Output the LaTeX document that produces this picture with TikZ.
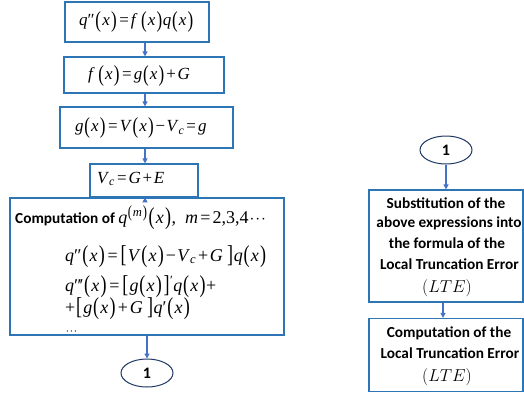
\documentclass[tikz,border=0pt]{standalone}
\usepackage{fontspec}
\usepackage{graphicx}
\setmainfont{Liberation Serif}
\newfontfamily\carl{Carlito}
\usetikzlibrary{arrows.meta,shapes.geometric,calc}
\definecolor{boxblue}{RGB}{46,117,182}
\definecolor{arrblue}{RGB}{68,114,196}
\definecolor{navy}{RGB}{31,56,100}
\newcommand\I[1]{\textit{#1}}
\newcommand\LP{\kern0.04em\raisebox{-0.09em}{\scalebox{1}[1.35]{(}}\kern0.07em}
\newcommand\RP{\kern0.07em\raisebox{-0.09em}{\scalebox{1}[1.35]{)}}\kern0.03em}
\newcommand\LB{\kern0.04em\raisebox{-0.09em}{\scalebox{1}[1.35]{[}}\kern0.07em}
\newcommand\RB{\kern0.07em\raisebox{-0.09em}{\scalebox{1}[1.35]{]}}\kern0.03em}
\newcommand\EQ{\kern0.12em=\kern0.12em}
\newcommand\PL{\kern0.1em+\kern0.1em}
\newcommand\MI{\kern0.08em−\kern0.08em}
\newcommand\tdots{$\mkern1mu\cdot\mkern-3mu\cdot\mkern-3mu\cdot$}
\begin{document}
\begin{tikzpicture}[x=1pt,y=-1pt,
  box/.style={draw=boxblue,line width=1.2pt,fill=white},
  arr/.style={draw=arrblue,line width=1.2pt,-{Triangle[length=5pt,width=5pt]}},
  conn/.style={ellipse,draw=navy,line width=1pt,fill=white,minimum width=52pt,minimum height=28pt,inner sep=0pt,font=\carl\bfseries\fontsize{16}{18}\selectfont},
  eq/.style={anchor=west,inner sep=0pt,font=\fontsize{17}{19}\selectfont},
  eqb/.style={anchor=west,inner sep=0pt,font=\fontsize{18}{20}\selectfont},
  lab/.style={inner sep=0pt,font=\carl\bfseries\fontsize{15.3}{18}\selectfont},
  lte/.style={inner sep=0pt,font=\fontsize{16}{18}\selectfont}]
\useasboundingbox (0,0) rectangle (524,392);
% boxes
\node[box,minimum width=144pt,minimum height=40pt,inner sep=0pt] (b1) at (137,22) {};
\node[box,minimum width=160pt,minimum height=36pt,inner sep=0pt] (b2) at (144,75) {};
\node[box,minimum width=173pt,minimum height=41pt,inner sep=0pt] (b3) at (146.5,127.5) {};
\node[box,minimum width=108pt,minimum height=33pt,inner sep=0pt] (b4) at (144,180.5) {};
\node[box,minimum width=274pt,minimum height=137pt,inner sep=0pt] (b5) at (147,266.5) {};
\node[conn] (c1) at (147,373) {1};
\node[conn] (c2) at (446,150) {1};
\node[box,minimum width=154pt,minimum height=112pt,inner sep=0pt] (b6) at (446,246) {};
\node[box,minimum width=154pt,minimum height=73pt,inner sep=0pt] (b7) at (446,355) {};
% texts
\node[eq] (t1) at (79,22) {\I{q}″\LP\I{x}\RP\EQ\I{f}\,\LP\I{x}\RP\I{q}\LP\I{x}\RP};
\node[eq] (t2) at (88,76) {\I{f}\,\LP\I{x}\RP\EQ\I{g}\LP\I{x}\RP\PL\I{G}};
\node[eq] (t3) at (75,128) {\I{g}\LP\I{x}\RP\EQ\I{V}\LP\I{x}\RP\MI\I{V}\textsubscript{\I{c}}\EQ\I{g}};
\node[eq] (t4) at (97,179) {\I{V}\textsubscript{\I{c}}\EQ\I{G}\PL\I{E}};
\node[eqb] (t5) at (15,218) {{\carl\bfseries\fontsize{15.3}{18}\selectfont Computation of }\I{q}\textsuperscript{\LP\I{m}\RP}\LP\I{x}\RP,\enspace\I{m}\EQ2,3,4\tdots};
\node[eqb] (t6) at (65,257) {\I{q}″\LP\I{x}\RP\EQ\LB\I{V}\LP\I{x}\RP\MI\I{V}\textsubscript{\I{c}}\PL\I{G}\,\RB\I{q}\LP\I{x}\RP};
\node[eqb] (t7) at (65,287) {\I{q}″\kern-0.12em′\LP\I{x}\RP\EQ\LB\I{g}\LP\I{x}\RP\RB\textsuperscript{′}\I{q}\LP\I{x}\RP+};
\node[eqb] (t8) at (65,309) {+\LB\I{g}\LP\I{x}\RP\PL\I{G}\,\RB\I{q}′\LP\I{x}\RP};
\node[anchor=base west,inner sep=0pt,font=\fontsize{13}{14}\selectfont] (t9) at (65,334) {\tdots};
\node[lab] (s1) at (446,203) {Substitution of the};
\node[lab] (s2) at (449,223) {above expressions into};
\node[lab] (s3) at (447,243) {the formula of the};
\node[lab] (s4) at (449.5,264) {Local Truncation Error};
\node[lte] (s5) at (447,288) {$(LTE)$};
\node[lab] (u1) at (449,333) {Computation of the};
\node[lab] (u2) at (450,353) {Local Truncation Error};
\node[lte] (u3) at (447,377) {$(LTE)$};
% connectors
\coordinate (ax) at (145,0);
\coordinate (bx) at (147,0);
\coordinate (cx) at (443,0);
\draw[arr] (b1.south -| ax) -- (b2.north -| ax);
\draw[arr] (b2.south -| ax) -- (b3.north -| ax);
\draw[arr] (b3.south -| ax) -- (b4.north -| ax);
\draw[arr] (b4.south -| ax) -- (b5.north -| ax);
\draw[arr] (b5.south -| bx) -- (c1.north);
\draw[arr] (c2.south) -- (b6.north -| c2);
\draw[arr] (b6.south -| cx) -- (b7.north -| cx);
\end{tikzpicture}
\end{document}
